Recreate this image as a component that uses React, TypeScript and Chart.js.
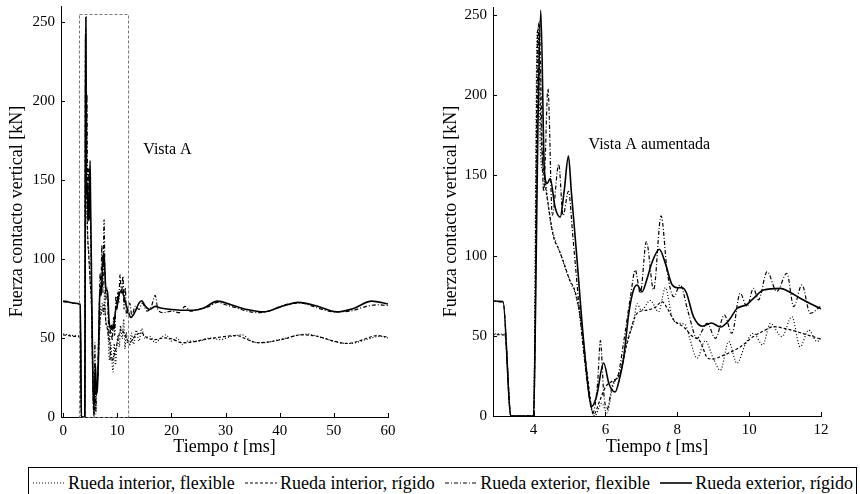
import React, { useEffect, useRef } from 'react';
import { Chart, registerables } from 'chart.js';
Chart.register(...registerables);

const FONT = "'Liberation Serif', 'Times New Roman', Times, serif";

// Rueda interior, flexible
const intFlexT = [0, 1, 2, 3.2, 3.37, 4.0, 4.1, 4.2, 4.3, 4.46, 4.6, 4.79, 4.88, 4.95, 5.05, 5.15, 5.3, 5.5, 5.7, 5.9, 6.04, 6.2, 6.4, 6.6, 6.78, 6.88, 7.0, 7.25, 7.48, 7.67, 7.85, 8.0, 8.22, 8.35, 8.55, 8.78, 9.0, 9.2, 9.43, 9.66, 9.9, 10.12, 10.38, 10.59, 10.91, 11.19, 11.42, 11.66, 11.89, 12.03, 12.3, 12.6, 13, 13.5, 14, 14.5, 15, 16, 17, 18, 19, 20, 21, 22, 23, 25, 27, 29, 31, 33, 35, 37, 40, 43, 45, 48, 51, 53, 56, 58.5, 60];
const intFlexV = [52.5, 52, 51.5, 51, 0, 0, 240, 160, 150, 122, 110, 98.5, 92, 88, 82, 77, 60, 20, 0, 8, 2, 18, 28, 47, 58, 70, 66, 72, 65, 80, 62, 58, 57, 48, 36, 47, 36, 28.5, 46.4, 32.9, 45, 51.6, 44.3, 57.8, 49.5, 61.9, 43.2, 53.6, 46.4, 48.5, 45, 53, 46, 55, 48, 56, 50, 51, 47, 50, 52, 48, 50, 46, 48, 48, 50, 49, 51, 52, 47.5, 47, 49, 51.5, 52.5, 50, 47, 46.5, 49, 51, 50];

// Rueda interior, rígido
const intRigT = [0, 1, 2, 3.2, 3.37, 4.0, 4.12, 4.22, 4.32, 4.42, 4.55, 4.7, 4.85, 5.0, 5.15, 5.3, 5.5, 5.67, 5.85, 6.0, 6.2, 6.4, 6.6, 6.88, 7.16, 7.4, 7.57, 7.75, 7.9, 8.2, 8.4, 8.64, 8.85, 9.0, 9.2, 9.5, 9.75, 10.12, 10.4, 10.68, 11.0, 11.33, 11.7, 12.03, 12.3, 12.8, 13.5, 14.5, 15.5, 17, 18.5, 20, 22, 24, 26, 28, 30, 32, 34, 36, 38, 41, 44, 47, 50, 52.5, 55, 58, 60];
const intRigV = [52, 51.5, 51, 50.5, 0, 0, 242, 170, 145, 130, 112, 104, 95, 85, 78, 62, 25, 1, 10, 18, 22, 26, 45, 64, 66, 68, 71.3, 66, 60, 55, 50, 46.4, 36, 35.5, 37, 40, 43, 49.5, 53, 55.7, 54.5, 52.6, 50, 47.8, 47, 49, 52, 53, 50, 49, 50, 49.5, 47, 47.5, 49, 50, 51, 51.5, 49, 47, 47.5, 49.5, 52, 51, 48, 46.5, 48.5, 51.5, 50.5];

// Rueda exterior, flexible
const extFlexT = [0, 1, 2, 3.15, 3.37, 4.0, 4.15, 4.28, 4.4, 4.52, 4.7, 4.82, 4.97, 5.1, 5.3, 5.5, 5.65, 5.78, 5.86, 5.95, 6.04, 6.2, 6.35, 6.5, 6.7, 6.83, 6.97, 7.14, 7.34, 7.55, 7.72, 7.9, 8.08, 8.3, 8.55, 8.83, 9.06, 9.31, 9.52, 9.75, 9.94, 10.12, 10.26, 10.5, 10.77, 11.05, 11.24, 11.47, 11.7, 12.03, 12.3, 12.7, 13.3, 14, 14.6, 15.5, 16.3, 17, 17.5, 18.5, 20, 21.5, 22.5, 23.5, 25, 27, 28.5, 30, 32, 34, 36, 38, 41, 44, 47, 50, 53, 56, 58, 60];
const extFlexV = [73, 72.5, 72, 71, 0, 0, 246, 140, 204, 125, 157, 125, 140, 110, 60, 20, 2, 20, 47, 15, 4, 20, 25, 45, 75, 91, 76.5, 108.8, 78.6, 124.8, 90, 74.4, 81.7, 65, 48.4, 57.8, 48.4, 63, 51.6, 76.5, 68.2, 79.6, 72.4, 90, 77.6, 89, 68.2, 81.7, 64, 69.2, 72, 64, 70, 68, 72, 67, 70, 77, 68, 66, 67, 66, 70, 67, 68, 70, 72.5, 71, 69, 67, 66, 67, 71, 72, 69, 66.5, 67, 70, 71, 70.5];

// Rueda exterior, rígido
const extRigT = [0, 1, 2, 3.15, 3.37, 4.0, 4.05, 4.12, 4.2, 4.3, 4.38, 4.46, 4.6, 4.74, 4.85, 4.97, 5.05, 5.2, 5.4, 5.62, 5.75, 5.95, 6.1, 6.27, 6.4, 6.5, 6.65, 6.78, 6.88, 7.02, 7.15, 7.3, 7.5, 7.67, 7.85, 8.0, 8.13, 8.25, 8.45, 8.7, 8.95, 9.2, 9.45, 9.66, 9.94, 10.15, 10.4, 10.87, 11.15, 11.42, 12.03, 12.5, 13.2, 14, 14.5, 15.2, 16, 17, 18, 20, 22, 24, 26, 28.5, 31, 34, 37, 40, 43.5, 47, 50.5, 53.5, 57, 60];
const extRigV = [73.3, 72.8, 72, 71.3, 0, 0, 60, 180, 253, 153, 145, 148, 130, 124, 140, 162, 140, 100, 45, 6, 12, 33, 20, 15, 24, 35, 64, 78.6, 81.7, 77.5, 85, 96, 104, 95, 82, 80, 80, 77, 62, 56, 58, 55.5, 60, 67, 69.5, 74, 78.6, 79.6, 77, 73.4, 66.6, 63, 66, 72, 73.5, 70, 68, 70, 69, 68, 67.5, 67.5, 69, 73.3, 71, 68, 66.5, 69.5, 72.5, 70, 66.5, 68.5, 73.3, 71.5];

const seriesLabels = ['Rueda interior, flexible', 'Rueda interior, rígido', 'Rueda exterior, flexible', 'Rueda exterior, rígido'];
const seriesT = [intFlexT, intRigT, extFlexT, extRigT];
const seriesV = [intFlexV, intRigV, extFlexV, extRigV];
const seriesDash = [[1, 2], [3, 2], [4, 2, 1, 2], []];
const seriesWidth = [1.2, 1.2, 1.2, 1.6];

const yTitle = 'Fuerza contacto vertical [kN]';

const decorPlugin = {
  id: 'decor',
  afterDraw(chart: any, _args: any, opts: any) {
    const ctx = chart.ctx;
    const xs = chart.scales.x;
    const ys = chart.scales.y;
    const a = chart.chartArea;
    ctx.save();
    ctx.strokeStyle = '#000';
    ctx.lineWidth = 1;
    ctx.setLineDash([]);
    xs.ticks.forEach((t: any) => {
      const px = Math.round(xs.getPixelForValue(t.value)) + 0.5;
      ctx.beginPath();
      ctx.moveTo(px, a.bottom);
      ctx.lineTo(px, a.bottom - 4);
      ctx.stroke();
    });
    ys.ticks.forEach((t: any) => {
      const py = Math.round(ys.getPixelForValue(t.value)) + 0.5;
      ctx.beginPath();
      ctx.moveTo(a.left, py);
      ctx.lineTo(a.left + 4, py);
      ctx.stroke();
    });
    if (opts.box) {
      const [x0, x1, y0, y1] = opts.box;
      const l = Math.round(xs.getPixelForValue(x0)) + 0.5;
      const r = Math.round(xs.getPixelForValue(x1)) + 0.5;
      const top = Math.round(ys.getPixelForValue(y1)) + 0.5;
      const bot = Math.round(ys.getPixelForValue(y0)) + 0.5;
      ctx.strokeStyle = '#777';
      ctx.setLineDash([3, 2]);
      ctx.strokeRect(l, top, r - l, bot - top);
      ctx.setLineDash([]);
    }
    ctx.fillStyle = '#000';
    ctx.font = `16px ${FONT}`;
    ctx.textBaseline = 'middle';
    ctx.textAlign = 'left';
    ctx.fillText(opts.note, xs.getPixelForValue(opts.noteX), ys.getPixelForValue(opts.noteY));
    const parts = [
      { s: 'Tiempo ', f: `18px ${FONT}` },
      { s: 't', f: `italic 18px ${FONT}` },
      { s: ' [ms]', f: `18px ${FONT}` },
    ];
    let total = 0;
    parts.forEach((p) => { ctx.font = p.f; total += ctx.measureText(p.s).width; });
    let x = (a.left + a.right) / 2 - total / 2;
    parts.forEach((p) => {
      ctx.font = p.f;
      ctx.fillText(p.s, x, opts.xTitleY);
      x += ctx.measureText(p.s).width;
    });
    ctx.restore();
  },
};

type PanelProps = {
  left: number;
  shift: number;
  xMin: number; xMax: number; xStep: number;
  yMax: number;
  yWidth: number; axisY: number; padRight: number;
  titlePad: number;
  box: number[] | null;
  note: string; noteX: number; noteY: number;
};

const CW = 430;
const CH = 470;

function Panel(p: PanelProps) {
  const ref = useRef<HTMLCanvasElement | null>(null);
  useEffect(() => {
    if (!ref.current) return;
    const datasets = seriesLabels.map((label, i) => ({
      label,
      data: seriesT[i].map((t, j) => ({ x: t, y: seriesV[i][j] })),
      borderColor: '#000',
      backgroundColor: '#000',
      borderWidth: seriesWidth[i],
      borderDash: seriesDash[i],
      pointRadius: 0,
      fill: false,
      cubicInterpolationMode: 'monotone' as const,
    }));
    const xHeight = CH - (p.axisY + p.shift);
    const chart = new Chart(ref.current, {
      type: 'line',
      data: { datasets },
      plugins: [decorPlugin],
      options: {
        responsive: false,
        animation: false,
        layout: { padding: { left: 0, right: p.padRight, top: 0, bottom: 0 } },
        plugins: {
          legend: { display: false },
          tooltip: { enabled: false },
          decor: { box: p.box, note: p.note, noteX: p.noteX, noteY: p.noteY, xTitleY: 447 + p.shift },
        } as any,
        scales: {
          x: {
            type: 'linear',
            min: p.xMin,
            max: p.xMax,
            grid: { display: false, drawTicks: false },
            border: { display: true, color: '#000', width: 1 },
            ticks: { stepSize: p.xStep, includeBounds: false, color: '#000', padding: 5, font: { family: FONT, size: 15 }, maxRotation: 0 },
            afterFit: (s: any) => { s.height = xHeight; },
          },
          y: {
            type: 'linear',
            min: 0,
            max: p.yMax,
            grid: { display: false, drawTicks: false },
            border: { display: true, color: '#000', width: 1 },
            ticks: { stepSize: 50, includeBounds: false, color: '#000', padding: 6, font: { family: FONT, size: 15 } },
            title: { display: true, text: yTitle, color: '#000', font: { family: FONT, size: 18 }, padding: { top: p.titlePad, bottom: 0 } },
            afterFit: (s: any) => { s.width = p.yWidth; },
          },
        },
      } as any,
    });
    return () => chart.destroy();
  }, []);
  return (
    <canvas
      ref={ref}
      width={CW}
      height={CH}
      style={{ position: 'absolute', left: p.left, top: -p.shift, width: CW, height: CH }}
    />
  );
}

function LegendSample({ dash, width }: { dash: number[]; width: number }) {
  return (
    <svg width={32} height={10} style={{ display: 'block', marginRight: 3, flex: '0 0 auto' }}>
      <line x1={0} y1={5} x2={32} y2={5} stroke="#000" strokeWidth={width} strokeDasharray={dash.length ? dash.join(' ') : undefined} />
    </svg>
  );
}

export default function App() {
  return (
    <div style={{ position: 'absolute', left: 0, top: 0, width: 860, height: 494, overflow: 'hidden', background: '#fff' }}>
      <Panel left={0} shift={9} xMin={-0.4} xMax={60} xStep={10} yMax={260} yWidth={61} axisY={417} padRight={42}
        titlePad={6} box={[3, 12, 0, 255]} note="Vista A" noteX={14.8} noteY={169} />
      <Panel left={430} shift={8} xMin={2.87} xMax={12} xStep={2} yMax={255} yWidth={63} axisY={416} padRight={39}
        titlePad={10} box={null} note="Vista A aumentada" noteX={5.53} noteY={169} />
      <div style={{
        position: 'absolute', left: 28, top: 467, width: 829, height: 27, boxSizing: 'border-box',
        border: '1px solid #000', borderBottom: 'none', display: 'flex', alignItems: 'center', justifyContent: 'space-between',
        paddingLeft: 4, paddingRight: 3, paddingTop: 3, fontFamily: FONT, fontSize: 18, lineHeight: '20px', whiteSpace: 'nowrap', color: '#000',
      }}>
        {seriesLabels.map((l, i) => (
          <div key={l} style={{ display: 'flex', alignItems: 'center' }}>
            <LegendSample dash={seriesDash[i]} width={seriesWidth[i]} />
            <span>{l}</span>
          </div>
        ))}
      </div>
    </div>
  );
}
